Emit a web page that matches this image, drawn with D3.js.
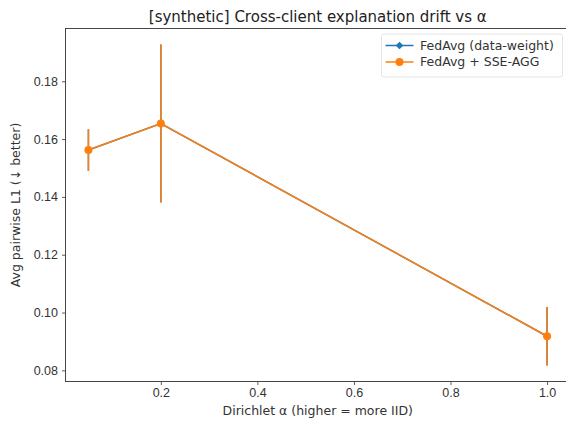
<!DOCTYPE html>
<html>
<head>
<meta charset="utf-8">
<script src="https://cdn.jsdelivr.net/npm/d3@7"></script>
<style>
  body { margin: 0; background: #fff; }
  svg { font-family: "DejaVu Sans", sans-serif; display: block; }
  .axis text { font-size: 12.5px; fill: #333; }
  .axis path, .axis line { stroke: #333; stroke-width: 0.8; }
</style>
</head>
<body>
<div id="chart-area"></div>
<script>
var alphas = [0.05, 0.2, 1.0];
var fedavgMean = [0.1562, 0.1654, 0.0918];
var fedavgErr = [0.0072, 0.0273, 0.0101];
var sseMean = [0.1562, 0.1654, 0.0918];
var sseErr = [0.0072, 0.0273, 0.0101];
var xTicks = [0.2, 0.4, 0.6, 0.8, 1.0];
var yTicks = [0.08, 0.10, 0.12, 0.14, 0.16, 0.18];

var series = [
  { name: "FedAvg (data-weight)", color: "#1f77b4", marker: "diamond", mean: fedavgMean, err: fedavgErr },
  { name: "FedAvg + SSE-AGG", color: "#ff7f0e", marker: "circle", mean: sseMean, err: sseErr }
];

var margin = { left: 65.5, top: 28.5, right: -4, bottom: 41.5 };
var totalW = 566, totalH = 423;
var width = totalW - margin.left - margin.right;
var height = totalH - margin.top - margin.bottom;

// matplotlib-like 5% margins
var xmin = d3.min(alphas), xmax = d3.max(alphas);
var xpad = (xmax - xmin) * 0.05;
var lo = d3.min(series, (s) => d3.min(s.mean, (m, i) => m - s.err[i]));
var hi = d3.max(series, (s) => d3.max(s.mean, (m, i) => m + s.err[i]));
var ypad = (hi - lo) * 0.05;

var xScale = d3.scaleLinear().domain([xmin - xpad, xmax + xpad]).range([0, width]);
var yScale = d3.scaleLinear().domain([lo - ypad, hi + ypad]).range([height, 0]);

var svg = d3.select("#chart-area")
  .append("svg")
  .attr("width", totalW)
  .attr("height", totalH);

var g = svg.append("g")
  .attr("transform", "translate(" + margin.left + ", " + margin.top + ")");

g.append("g")
  .attr("class", "axis x-axis")
  .attr("transform", "translate(0," + height + ")")
  .call(d3.axisBottom(xScale).tickValues(xTicks).tickFormat(d3.format(".1f")).tickSize(3.5).tickPadding(3.5))
  .select(".domain").remove();

g.append("g")
  .attr("class", "axis y-axis")
  .call(d3.axisLeft(yScale).tickValues(yTicks).tickFormat(d3.format(".2f")).tickSize(3.5).tickPadding(4))
  .select(".domain").remove();

// spines
g.append("rect")
  .attr("x", 0)
  .attr("y", 0)
  .attr("width", width)
  .attr("height", height)
  .attr("fill", "none")
  .attr("stroke", "#333")
  .attr("stroke-width", 0.9);

var line = d3.line()
  .x((d) => xScale(d.x))
  .y((d) => yScale(d.y));

function markerPath(type, size) {
  var sym = type === "diamond" ? d3.symbolSquare : d3.symbolCircle;
  return d3.symbol().type(sym).size(size)();
}

series.forEach((s) => {
  var pts = alphas.map((a, i) => ({ x: a, y: s.mean[i], e: s.err[i] }));
  var sg = g.append("g").attr("class", "series");

  sg.selectAll(".err")
    .data(pts)
    .enter()
    .append("line")
    .attr("class", "err")
    .attr("x1", (d) => xScale(d.x))
    .attr("x2", (d) => xScale(d.x))
    .attr("y1", (d) => yScale(d.y - d.e))
    .attr("y2", (d) => yScale(d.y + d.e))
    .attr("stroke", s.color)
    .attr("stroke-width", 1.5);

  sg.append("path")
    .datum(pts)
    .attr("d", line)
    .attr("fill", "none")
    .attr("stroke", s.color)
    .attr("stroke-width", 1.5);

  sg.selectAll(".pt")
    .data(pts)
    .enter()
    .append("path")
    .attr("class", "pt")
    .attr("d", markerPath(s.marker, s.marker === "diamond" ? 30 : 50))
    .attr("transform", (d) => "translate(" + xScale(d.x) + "," + yScale(d.y) + ")" + (s.marker === "diamond" ? " rotate(45)" : ""))
    .attr("fill", s.color);
});

// legend
var legend = g.append("g")
  .attr("transform", "translate(" + (381.5 - margin.left) + "," + (34 - margin.top) + ")");

legend.append("rect")
  .attr("width", 181)
  .attr("height", 43)
  .attr("rx", 2.5)
  .attr("fill", "#fff")
  .attr("fill-opacity", 0.8)
  .attr("stroke", "#ddd")
  .attr("stroke-width", 0.8);

series.forEach((s, i) => {
  var yy = 11.5 + i * 16.5;
  legend.append("line")
    .attr("x1", 4)
    .attr("x2", 32)
    .attr("y1", yy)
    .attr("y2", yy)
    .attr("stroke", s.color)
    .attr("stroke-width", 1.5);
  legend.append("path")
    .attr("d", markerPath(s.marker, s.marker === "diamond" ? 30 : 50))
    .attr("transform", "translate(18," + yy + ")" + (s.marker === "diamond" ? " rotate(45)" : ""))
    .attr("fill", s.color);
  legend.append("text")
    .attr("x", 38.5)
    .attr("y", yy)
    .attr("dy", "0.35em")
    .attr("font-size", "12.5px")
    .attr("fill", "#333")
    .text(s.name);
});

// title and labels
svg.append("text")
  .attr("x", margin.left + width / 2)
  .attr("y", 22)
  .attr("text-anchor", "middle")
  .attr("font-size", "15px")
  .attr("fill", "#222")
  .text("[synthetic] Cross-client explanation drift vs α");

svg.append("text")
  .attr("x", margin.left + width / 2)
  .attr("y", 415)
  .attr("text-anchor", "middle")
  .attr("font-size", "12.5px")
  .attr("fill", "#333")
  .text("Dirichlet α (higher = more IID)");

svg.append("text")
  .attr("transform", "rotate(-90)")
  .attr("x", -(margin.top + height / 2))
  .attr("y", 20)
  .attr("text-anchor", "middle")
  .attr("font-size", "12.5px")
  .attr("fill", "#333")
  .text("Avg pairwise L1 (↓ better)");
</script>
</body>
</html>
